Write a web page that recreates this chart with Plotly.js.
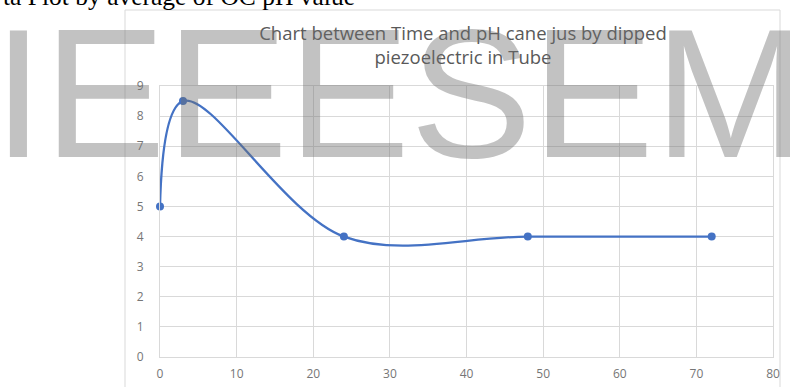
<!DOCTYPE html>
<html>
<head>
<meta charset="utf-8">
<script src="https://cdn.plot.ly/plotly-3.0.1.min.js"></script>
<style>
  html, body { margin: 0; padding: 0; background: #ffffff; }
  #chart { width: 790px; height: 387px; }
</style>
</head>
<body>
<div id="chart"></div>
<script>
// ---- data ----
const timeHours = [0, 3, 24, 48, 72];
const phValues = [5, 8.5, 4, 4, 4];
const xTickValues = [0, 10, 20, 30, 40, 50, 60, 70, 80];
const yTickValues = [0, 1, 2, 3, 4, 5, 6, 7, 8, 9];
const chartTitle = 'Chart between Time and pH cane jus by dipped<br>piezoelectric in Tube';
const pageCaption = 'ta Plot by average of OC pH value';
const watermarkText = 'IEEESEM';

// ---- geometry helpers (pixel -> paper) ----
const W = 790, H = 387;
const M = {l: 160, r: 17, t: 86, b: 30};
const PW = W - M.l - M.r, PH = H - M.t - M.b;
const px2x = px => (px - M.l) / PW;
const py2y = py => (H - M.b - py) / PH;

const trace = {
  x: timeHours,
  y: phValues,
  type: 'scatter',
  mode: 'lines+markers',
  line: {color: '#4472c4', width: 2.3, shape: 'spline', smoothing: 1},
  marker: {color: '#4472c4', size: 8},
  hoverinfo: 'x+y',
  cliponaxis: false
};

const layout = {
  width: W,
  height: H,
  margin: M,
  paper_bgcolor: '#ffffff',
  plot_bgcolor: '#ffffff',
  showlegend: false,
  title: {
    text: chartTitle,
    font: {family: 'Open Sans, sans-serif', size: 18.5, color: '#595959'},
    x: px2x(463), xref: 'paper', xanchor: 'center',
    y: 1 - 40 / H, yref: 'container', yanchor: 'middle'
  },
  xaxis: {
    range: [0, 80],
    tickvals: xTickValues,
    ticktext: xTickValues.map(String),
    showgrid: true, gridcolor: '#d9d9d9', gridwidth: 1,
    zeroline: false,
    showline: true, linecolor: '#d9d9d9', linewidth: 1, mirror: true,
    ticks: '',
    ticklabelstandoff: 6,
    tickfont: {family: 'Open Sans, sans-serif', size: 12, color: '#767676'},
    fixedrange: true
  },
  yaxis: {
    range: [0, 9],
    tickvals: yTickValues,
    ticktext: yTickValues.map(String),
    showgrid: true, gridcolor: '#d9d9d9', gridwidth: 1,
    zeroline: false,
    showline: true, linecolor: '#d9d9d9', linewidth: 1, mirror: true,
    ticks: '',
    ticklabelstandoff: 13,
    tickfont: {family: 'Open Sans, sans-serif', size: 12, color: '#767676'},
    fixedrange: true
  },
  shapes: [{
    type: 'rect', xref: 'paper', yref: 'paper',
    x0: px2x(125), x1: px2x(780), y0: py2y(420), y1: py2y(10),
    line: {color: '#d9d9d9', width: 1}, fillcolor: 'rgba(0,0,0,0)', layer: 'below'
  }],
  annotations: [
    {
      text: pageCaption, showarrow: false,
      xref: 'paper', yref: 'paper',
      x: px2x(1), xanchor: 'left',
      y: py2y(13), yanchor: 'bottom',
      font: {family: 'Liberation Serif, Times New Roman, serif', size: 25.5, color: '#000000'}
    },
    {
      text: watermarkText, showarrow: false,
      xref: 'paper', yref: 'paper',
      x: px2x(400), xanchor: 'center',
      y: py2y(93), yanchor: 'middle',
      font: {family: 'Liberation Sans, Arial, sans-serif', size: 183, color: 'rgba(110,110,110,0.42)'}
    }
  ]
};

Plotly.newPlot('chart', [trace], layout, {staticPlot: true, displayModeBar: false});
</script>
</body>
</html>
